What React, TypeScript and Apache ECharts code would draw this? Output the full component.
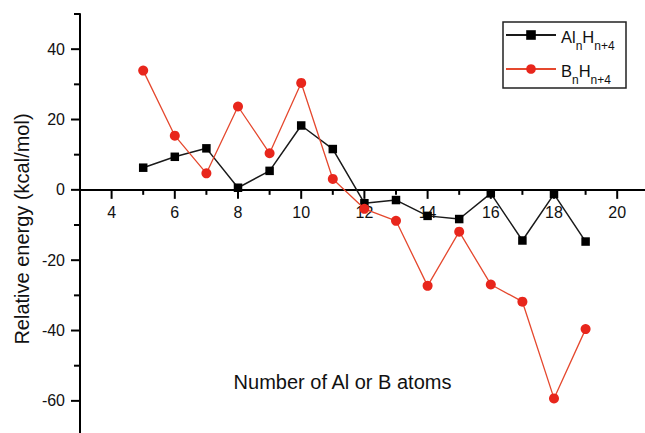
import React, { useEffect, useRef } from 'react';
import * as echarts from 'echarts';

// ---- data ----
const atomCounts = [5, 6, 7, 8, 9, 10, 11, 12, 13, 14, 15, 16, 17, 18, 19];
const alnHn4 = [6.3, 9.4, 11.8, 0.6, 5.4, 18.3, 11.6, -3.8, -2.9, -7.4, -8.3, -1.0, -14.4, -1.2, -14.7];
const bnHn4 = [33.9, 15.4, 4.7, 23.7, 10.4, 30.4, 3.1, -5.4, -8.8, -27.3, -11.9, -26.9, -31.8, -59.3, -39.6];
const seriesNames = ['AlnHn+4', 'BnHn+4'];
const legendLabels = ['{a|Al}{s|n}{a|H}{s|n+4}', '{a|B}{s|n}{a|H}{s|n+4}'];
const xMajorTicks = [4, 6, 8, 10, 12, 14, 16, 18, 20];
const xMinorTicks = [3, 5, 7, 9, 11, 13, 15, 17, 19, 21];
const yMajorTicks = [-60, -40, -20, 0, 20, 40];
const yMinorTicks = [-70, -50, -30, -10, 10, 30, 50];
const xRange = [3, 21];
const yRange = [-70, 50];
const xTitle = 'Number of Al or B atoms';
const yTitle = 'Relative energy (kcal/mol)';

export default function App() {
  const ref = useRef<HTMLDivElement>(null);

  useEffect(() => {
    const chart = echarts.init(ref.current as HTMLDivElement, null, { renderer: 'svg' });
    const font = '"Liberation Sans", Arial, sans-serif';
    const ink = '#111';
    const left = 80;
    const top = 14;
    const ux = 31.6;
    const uy = 3.517;

    const xMin = xRange[0], xMax = xRange[1];
    const yMin = yRange[0], yMax = yRange[1];
    const xmMin = xMajorTicks[0], xmMax = xMajorTicks[xMajorTicks.length - 1];
    const ymMin = yMajorTicks[0], ymMax = yMajorTicks[yMajorTicks.length - 1];
    const zeroY = top + yMax * uy; // pixel row of y = 0

    // tick marks: [value, axis (0 = x, 1 = y), major (1) / minor (0)]
    const tickData: number[][] = [
      ...xMajorTicks.map((v) => [v, 0, 1]),
      ...xMinorTicks.map((v) => [v, 0, 0]),
      ...yMajorTicks.map((v) => [v, 1, 1]),
      ...yMinorTicks.map((v) => [v, 1, 0]),
    ];

    const option: any = {
      animation: false,
      backgroundColor: '#fff',
      grid: [
        {
          left: left,
          top: top,
          width: (xMax - xMin) * ux,
          height: (yMax - yMin) * uy,
          outerBoundsMode: 'none',
        },
        {
          left: left + (xmMin - xMin) * ux,
          top: top,
          width: (xmMax - xmMin) * ux,
          height: zeroY - top,
          outerBoundsMode: 'none',
        },
        {
          left: left,
          top: top + (yMax - ymMax) * uy,
          width: (xmMax - xmMin) * ux,
          height: (ymMax - ymMin) * uy,
          outerBoundsMode: 'none',
        },
      ],
      xAxis: [
        {
          type: 'value',
          gridIndex: 0,
          min: xMin,
          max: xMax,
          interval: 1,
          axisLine: { show: true, onZero: true, lineStyle: { color: '#000', width: 2 } },
          axisTick: { show: false },
          axisLabel: { show: false },
          splitLine: { show: false },
        },
        {
          type: 'value',
          gridIndex: 1,
          position: 'bottom',
          min: xmMin,
          max: xmMax,
          interval: 2,
          axisLine: { show: false, onZero: false },
          axisTick: { show: false },
          axisLabel: { show: true, margin: 15, color: ink, fontFamily: font, fontSize: 16 },
          splitLine: { show: false },
        },
        {
          type: 'value',
          gridIndex: 2,
          show: false,
          min: 0,
          max: 1,
        },
      ],
      yAxis: [
        {
          type: 'value',
          gridIndex: 0,
          min: yMin,
          max: yMax,
          interval: 10,
          axisLine: { show: true, onZero: false, lineStyle: { color: '#000', width: 2 } },
          axisTick: { show: false },
          axisLabel: { show: false },
          splitLine: { show: false },
        },
        {
          type: 'value',
          gridIndex: 1,
          show: false,
          min: 0,
          max: 1,
        },
        {
          type: 'value',
          gridIndex: 2,
          position: 'left',
          min: ymMin,
          max: ymMax,
          interval: 20,
          axisLine: { show: false, onZero: false },
          axisTick: { show: false },
          axisLabel: { show: true, margin: 15, color: ink, fontFamily: font, fontSize: 16 },
          splitLine: { show: false },
        },
      ],
      legend: {
        show: true,
        data: seriesNames,
        orient: 'vertical',
        left: 505,
        top: 18,
        padding: 0,
        itemGap: 0,
        itemWidth: 50,
        itemHeight: 12,
        selectedMode: false,
        formatter: (name: string) => legendLabels[seriesNames.indexOf(name)],
        textStyle: {
          color: ink,
          fontFamily: font,
          rich: {
            a: { fontFamily: font, fontSize: 16.5, color: ink, lineHeight: 20, padding: [4, 0, 0, 0] },
            s: { fontFamily: font, fontSize: 12, color: ink, lineHeight: 12, padding: [22, 0, 0, 0] },
          },
        },
      },
      graphic: [
        {
          type: 'rect',
          shape: { x: 503, y: 22, width: 123, height: 66 },
          style: { fill: 'none', stroke: '#222', lineWidth: 1.5 },
          silent: true,
        },
        {
          type: 'text',
          x: 342.5,
          y: 382,
          style: {
            text: xTitle,
            fontFamily: font,
            fontSize: 20,
            fill: ink,
            align: 'center',
            verticalAlign: 'middle',
            textAlign: 'center',
            textVerticalAlign: 'middle',
          },
        },
        {
          type: 'text',
          x: 22,
          y: 229,
          rotation: Math.PI / 2,
          style: {
            text: yTitle,
            fontFamily: font,
            fontSize: 20,
            fill: ink,
            align: 'center',
            verticalAlign: 'middle',
            textAlign: 'center',
            textVerticalAlign: 'middle',
          },
        },
      ],
      series: [
        {
          type: 'custom',
          xAxisIndex: 0,
          yAxisIndex: 0,
          silent: true,
          clip: false,
          z: 1,
          data: tickData,
          renderItem: (params: any, api: any) => {
            const v = api.value(0);
            const axis = api.value(1);
            const major = api.value(2) === 1;
            if (axis === 0) {
              const p = api.coord([v, 0]);
              const len = major ? 9 : 5;
              return {
                type: 'line',
                shape: { x1: p[0], y1: p[1], x2: p[0], y2: p[1] + len },
                style: { stroke: '#000', lineWidth: 2 },
              };
            }
            const p = api.coord([xMin, v]);
            const len = major ? 9 : 6;
            return {
              type: 'line',
              shape: { x1: p[0], y1: p[1], x2: p[0] - len, y2: p[1] },
              style: { stroke: '#000', lineWidth: 2 },
            };
          },
        },
        {
          name: seriesNames[0],
          type: 'line',
          xAxisIndex: 0,
          yAxisIndex: 0,
          data: atomCounts.map((n, i) => [n, alnHn4[i]]),
          symbol: 'rect',
          symbolSize: 8.5,
          itemStyle: { color: '#000' },
          lineStyle: { color: '#1a1a1a', width: 1.5 },
          z: 3,
        },
        {
          name: seriesNames[1],
          type: 'line',
          xAxisIndex: 0,
          yAxisIndex: 0,
          data: atomCounts.map((n, i) => [n, bnHn4[i]]),
          symbol: 'circle',
          symbolSize: 10,
          itemStyle: { color: '#e8261c' },
          lineStyle: { color: '#e5482e', width: 1.3 },
          z: 4,
        },
      ],
    };

    chart.setOption(option);
    return () => chart.dispose();
  }, []);

  return (
    <div
      ref={ref}
      style={{ position: 'fixed', left: 0, top: 0, width: 645, height: 433, background: '#fff' }}
    />
  );
}
